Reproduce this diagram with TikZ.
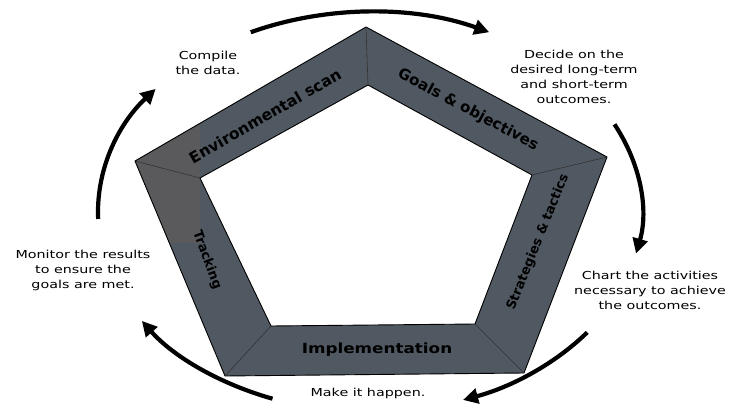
\documentclass[tikz,border=0pt]{standalone}
\usepackage{fontspec}
\setmainfont{DejaVu Sans}
\usepackage{tikz}
\usetikzlibrary{arrows.meta, calc}

\definecolor{bandgrey}{RGB}{80,88,97}
\definecolor{cornergrey}{RGB}{90,90,92}

\begin{document}
\begin{tikzpicture}[
  x=1pt, y=1pt,
  edge/.style={draw=black, line width=0.9pt, line join=round},
  seam/.style={draw=black!80, line width=0.6pt},
  lbl/.style={font=\bfseries\fontsize{#1}{#1}\selectfont, inner sep=0pt},
  lbl/.default=14,
  note/.style={align=center, font=\fontsize{11}{15}\selectfont, xscale=1.3, inner sep=0pt},
  cyc/.style={line width=4.2pt, -{Triangle[length=15pt, width=15pt]}}
]
\useasboundingbox (0,0) rectangle (730,410);

% pentagon ring, outer and inner corners
\coordinate (o1) at (366,383); \coordinate (i1) at (368,325);
\coordinate (o2) at (607,253); \coordinate (i2) at (532,235);
\coordinate (o3) at (524,37);  \coordinate (i3) at (475,86);
\coordinate (o4) at (225,34);  \coordinate (i4) at (271,84);
\coordinate (o5) at (135,249); \coordinate (i5) at (200,232);

\fill[bandgrey, even odd rule] (o1)--(o2)--(o3)--(o4)--(o5)--cycle
  (i1)--(i2)--(i3)--(i4)--(i5)--cycle;
\begin{scope}
  \clip (o1)--(o5)--(o4)--(i4)--(i5)--(i1)--cycle;
  \fill[cornergrey] (100,167) rectangle (200,320);
\end{scope}
\draw[edge] (o1)--(o2)--(o3)--(o4)--(o5)--cycle;
\draw[edge] (i1)--(i2)--(i3)--(i4)--(i5)--cycle;
\draw[seam] (o1)--(i1); \draw[seam] (o2)--(i2); \draw[seam] (o3)--(i3);
\draw[seam] (o4)--(i4); \draw[seam] (o5)--(i5);

\node[lbl=15.5, rotate=30] (scan) at (265,294) {Environmental scan};
\node[lbl=15, rotate=-28] (goals) at (468,300) {Goals \& objectives};
\node[lbl=13, rotate=68] (strat) at (538,168) {Strategies \& tactics};
\node[lbl=14, xscale=1.2] (impl) at (377,60) {Implementation};
\node[lbl=13, rotate=-70] (track) at (207,150) {Tracking};

% notes round the ring
\node[note] (compile) at (208,347) {Compile\\the data.};
\node[note] (decide) at (574,333) {Decide on the\\desired long-term\\and short-term\\outcomes.};
\node[note] (chart) at (650,120) {Chart the activities\\necessary to achieve\\the outcomes.};
\node[note] (make) at (368,17) {Make it happen.};
\node[note] (monitor) at (83,140) {Monitor the results\\to ensure the\\goals are met.};

% cycle arrows
\coordinate (c) at (370,198);
\coordinate (a1) at ($(c)+(116:272pt and 200pt)$);
\coordinate (a2) at ($(c)+(26:272pt and 200pt)$);
\coordinate (a3) at ($(c)+(-37:272pt and 200pt)$);
\coordinate (a4) at ($(c)+(-111:272pt and 200pt)$);
\coordinate (a5) at ($(c)+(182:272pt and 200pt)$);
\draw[cyc] (a1) arc[start angle=116, end angle=64, x radius=272pt, y radius=200pt];
\draw[cyc] (a2) arc[start angle=26, end angle=-12, x radius=272pt, y radius=200pt];
\draw[cyc] (a3) arc[start angle=-37, end angle=-70, x radius=272pt, y radius=200pt];
\draw[cyc] (a4) arc[start angle=-111, end angle=-147, x radius=272pt, y radius=200pt];
\draw[cyc] (a5) arc[start angle=182, end angle=142, x radius=272pt, y radius=200pt];
\end{tikzpicture}
\end{document}
